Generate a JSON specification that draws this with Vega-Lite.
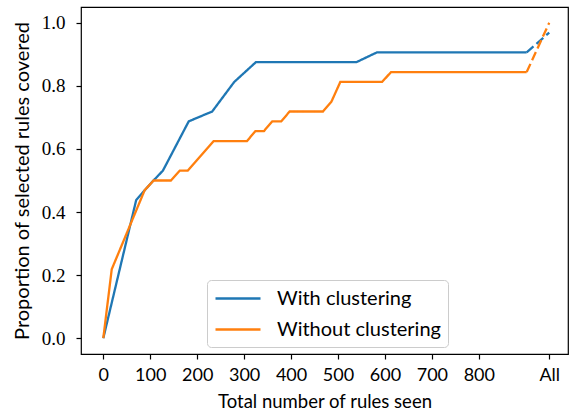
{
  "$schema": "https://vega.github.io/schema/vega-lite/v6.json",
  "autosize": {"type": "none"},
  "width": 487,
  "height": 347,
  "padding": {"left": 81, "top": 7, "right": 2, "bottom": 60},
  "background": "white",
  "config": {
    "view": {"stroke": "#000000", "strokeWidth": 1.2},
    "axis": {
      "grid": false,
      "domain": false,
      "ticks": true,
      "tickColor": "#000000",
      "tickSize": 5,
      "tickWidth": 1.2,
      "labelColor": "#000000",
      "titleColor": "#000000",
      "titleFontWeight": "normal"
    }
  },
  "datasets": {
    "curves": [
      {"rules": 0, "coverage": 0, "method": "With clustering", "part": "seen"},
      {"rules": 70, "coverage": 0.4375, "method": "With clustering", "part": "seen"},
      {"rules": 88, "coverage": 0.46875, "method": "With clustering", "part": "seen"},
      {"rules": 107, "coverage": 0.5, "method": "With clustering", "part": "seen"},
      {"rules": 127, "coverage": 0.53125, "method": "With clustering", "part": "seen"},
      {"rules": 182, "coverage": 0.6875, "method": "With clustering", "part": "seen"},
      {"rules": 232, "coverage": 0.71875, "method": "With clustering", "part": "seen"},
      {"rules": 279, "coverage": 0.8125, "method": "With clustering", "part": "seen"},
      {"rules": 325, "coverage": 0.875, "method": "With clustering", "part": "seen"},
      {"rules": 539, "coverage": 0.875, "method": "With clustering", "part": "seen"},
      {"rules": 583, "coverage": 0.90625, "method": "With clustering", "part": "seen"},
      {"rules": 902, "coverage": 0.90625, "method": "With clustering", "part": "seen"},
      {"rules": 0, "coverage": 0, "method": "Without clustering", "part": "seen"},
      {"rules": 18, "coverage": 0.21875, "method": "Without clustering", "part": "seen"},
      {"rules": 88, "coverage": 0.46875, "method": "Without clustering", "part": "seen"},
      {"rules": 107, "coverage": 0.5, "method": "Without clustering", "part": "seen"},
      {"rules": 144, "coverage": 0.5, "method": "Without clustering", "part": "seen"},
      {"rules": 163, "coverage": 0.53125, "method": "Without clustering", "part": "seen"},
      {"rules": 180, "coverage": 0.53125, "method": "Without clustering", "part": "seen"},
      {"rules": 235, "coverage": 0.625, "method": "Without clustering", "part": "seen"},
      {"rules": 306, "coverage": 0.625, "method": "Without clustering", "part": "seen"},
      {"rules": 324, "coverage": 0.65625, "method": "Without clustering", "part": "seen"},
      {"rules": 342, "coverage": 0.65625, "method": "Without clustering", "part": "seen"},
      {"rules": 360, "coverage": 0.6875, "method": "Without clustering", "part": "seen"},
      {"rules": 379, "coverage": 0.6875, "method": "Without clustering", "part": "seen"},
      {"rules": 397, "coverage": 0.71875, "method": "Without clustering", "part": "seen"},
      {"rules": 468, "coverage": 0.71875, "method": "Without clustering", "part": "seen"},
      {"rules": 486, "coverage": 0.75, "method": "Without clustering", "part": "seen"},
      {"rules": 505, "coverage": 0.8125, "method": "Without clustering", "part": "seen"},
      {"rules": 594, "coverage": 0.8125, "method": "Without clustering", "part": "seen"},
      {"rules": 613, "coverage": 0.84375, "method": "Without clustering", "part": "seen"},
      {"rules": 902, "coverage": 0.84375, "method": "Without clustering", "part": "seen"},
      {"rules": 902, "coverage": 0.90625, "method": "With clustering", "part": "all"},
      {"rules": 950, "coverage": 0.96875, "method": "With clustering", "part": "all"},
      {"rules": 902, "coverage": 0.84375, "method": "Without clustering", "part": "all"},
      {"rules": 950, "coverage": 1.0, "method": "Without clustering", "part": "all"}
    ]
  },
  "data": {"name": "curves"},
  "mark": {"type": "line", "strokeWidth": 2.3, "clip": false},
  "encoding": {
    "x": {
      "field": "rules",
      "type": "quantitative",
      "scale": {"domain": [-47.5, 990], "nice": false, "zero": false},
      "axis": {
        "title": "Total number of rules seen",
        "values": [0, 100, 200, 300, 400, 500, 600, 700, 800, 950],
        "labelExpr": "datum.value == 950 ? 'All' : format(datum.value, 'd')",
        "labelFont": "Lato",
        "labelFontSize": 18,
        "labelPadding": 7,
        "titleFont": "Lato",
        "titleFontSize": 18.5,
        "titlePadding": 8
      }
    },
    "y": {
      "field": "coverage",
      "type": "quantitative",
      "scale": {"domain": [-0.05, 1.05], "nice": false, "zero": false},
      "axis": {
        "title": "Proportion of selected rules covered",
        "values": [0, 0.2, 0.4, 0.6, 0.8, 1.0],
        "format": ".1f",
        "labelFont": "Liberation Serif",
        "labelFontSize": 19,
        "labelPadding": 11,
        "titleFont": "Lato",
        "titleFontSize": 20,
        "titlePadding": 9
      }
    },
    "color": {
      "field": "method",
      "type": "nominal",
      "scale": {"domain": ["With clustering", "Without clustering"], "range": ["#1f77b4", "#ff7f0e"]},
      "legend": {
        "title": null,
        "orient": "none",
        "legendX": 126,
        "legendY": 273,
        "symbolType": "M-1,0H3.5",
        "symbolSize": 400,
        "symbolStrokeWidth": 2.5,
        "rowPadding": 9,
        "padding": 7,
        "labelOffset": 40,
        "labelFont": "Lato",
        "labelFontSize": 20,
        "labelLimit": 300,
        "labelColor": "#000000",
        "fillColor": "rgba(255,255,255,0.8)",
        "strokeColor": "#cccccc",
        "cornerRadius": 4
      }
    },
    "detail": {"field": "part"},
    "strokeDash": {
      "field": "part",
      "type": "nominal",
      "scale": {"domain": ["seen", "all"], "range": [[1, 0], [9, 4]]},
      "legend": null
    }
  }
}
